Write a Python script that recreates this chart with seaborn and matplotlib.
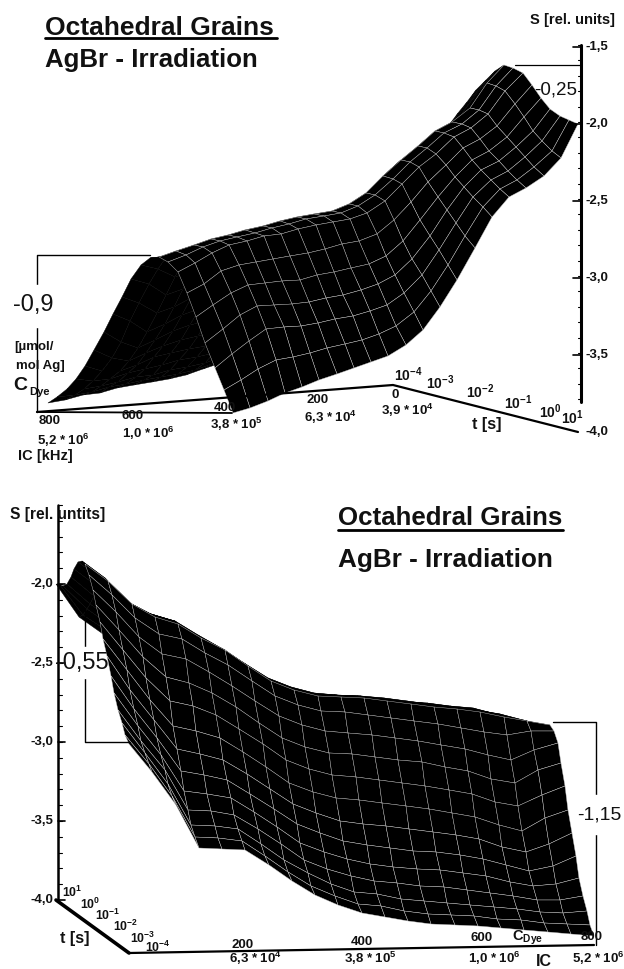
#!/usr/bin/env python3
"""
Octahedral grains, AgBr irradiation: sensitivity surface seen from two sides
"""

import matplotlib
matplotlib.use('Agg')
import matplotlib.pyplot as plt
import seaborn as sns
import numpy as np

sns.set_style("white")
plt.rcParams['font.family'] = ['Liberation Sans', 'DejaVu Sans']
plt.rcParams['mathtext.fontset'] = 'custom'
plt.rcParams['mathtext.rm'] = 'Liberation Sans:bold'
plt.rcParams['mathtext.bf'] = 'Liberation Sans:bold'
plt.rcParams['mathtext.default'] = 'rm'

# dye concentration as a share of 800, and t position along the axis
c_share = [0, .05, .1, .15, .2, .25, .3, .35, .4, .45, .5, .55, .6, .65, .7, .75, .8, .85, .9, .95, 1]
t_share = [0, .05, .1, .15, .2, .25, .3, .35, .4, .45, .5, .55, .6, .65, .7, .75, .8, .85, .9, .95, 1]

# S [rel. units], one row per dye concentration, columns from 10^-4 s to 10^1 s
s_table = np.array([
    [-2.68, -2.64, -2.58, -2.51, -2.42, -2.33, -2.22, -2.13, -2.04, -1.95, -1.87, -1.79, -1.74, -1.74, -1.76, -1.82, -1.89, -1.95, -1.98, -1.99, -2.00],
    [-2.86, -2.82, -2.77, -2.71, -2.63, -2.54, -2.44, -2.33, -2.22, -2.11, -2.01, -1.92, -1.85, -1.85, -1.87, -1.94, -2.01, -2.08, -2.13, -2.18, -2.21],
    [-3.07, -3.03, -2.97, -2.90, -2.82, -2.73, -2.63, -2.52, -2.40, -2.28, -2.17, -2.07, -2.00, -2.00, -2.01, -2.07, -2.13, -2.18, -2.23, -2.28, -2.32],
    [-3.34, -3.29, -3.23, -3.15, -3.05, -2.94, -2.82, -2.69, -2.55, -2.41, -2.28, -2.17, -2.08, -2.08, -2.09, -2.15, -2.21, -2.26, -2.31, -2.35, -2.39],
    [-3.35, -3.30, -3.24, -3.16, -3.07, -2.97, -2.85, -2.72, -2.58, -2.45, -2.32, -2.21, -2.13, -2.13, -2.14, -2.20, -2.26, -2.31, -2.36, -2.40, -2.44],
    [-3.36, -3.32, -3.26, -3.19, -3.10, -3.00, -2.89, -2.77, -2.64, -2.52, -2.40, -2.30, -2.22, -2.22, -2.24, -2.30, -2.36, -2.41, -2.46, -2.51, -2.56],
    [-3.46, -3.42, -3.36, -3.28, -3.19, -3.09, -2.98, -2.86, -2.73, -2.61, -2.49, -2.38, -2.30, -2.30, -2.32, -2.40, -2.48, -2.55, -2.62, -2.69, -2.75],
    [-3.56, -3.52, -3.46, -3.38, -3.29, -3.19, -3.08, -2.96, -2.83, -2.71, -2.59, -2.48, -2.40, -2.40, -2.42, -2.52, -2.62, -2.71, -2.79, -2.87, -2.95],
    [-3.65, -3.61, -3.55, -3.48, -3.39, -3.29, -3.18, -3.06, -2.93, -2.81, -2.69, -2.58, -2.50, -2.50, -2.52, -2.63, -2.75, -2.85, -2.94, -3.03, -3.12],
    [-3.72, -3.68, -3.62, -3.54, -3.45, -3.35, -3.24, -3.12, -2.99, -2.87, -2.75, -2.64, -2.56, -2.56, -2.59, -2.71, -2.84, -2.95, -3.05, -3.16, -3.26],
    [-3.77, -3.73, -3.67, -3.59, -3.50, -3.40, -3.29, -3.16, -3.03, -2.91, -2.79, -2.68, -2.60, -2.60, -2.62, -2.75, -2.88, -3.00, -3.12, -3.24, -3.35],
    [-3.80, -3.75, -3.69, -3.62, -3.53, -3.43, -3.31, -3.18, -3.05, -2.92, -2.80, -2.69, -2.61, -2.61, -2.63, -2.76, -2.90, -3.03, -3.15, -3.28, -3.41],
    [-3.83, -3.78, -3.72, -3.64, -3.55, -3.45, -3.33, -3.20, -3.07, -2.94, -2.82, -2.71, -2.62, -2.62, -2.64, -2.78, -2.92, -3.05, -3.17, -3.31, -3.44],
    [-3.85, -3.80, -3.74, -3.66, -3.57, -3.47, -3.35, -3.22, -3.09, -2.96, -2.84, -2.73, -2.64, -2.64, -2.66, -2.80, -2.93, -3.06, -3.18, -3.33, -3.47],
    [-3.86, -3.81, -3.75, -3.67, -3.58, -3.48, -3.37, -3.24, -3.11, -2.98, -2.86, -2.75, -2.66, -2.66, -2.68, -2.81, -2.95, -3.08, -3.20, -3.35, -3.50],
    [-3.87, -3.82, -3.77, -3.69, -3.60, -3.50, -3.39, -3.27, -3.14, -3.01, -2.89, -2.77, -2.68, -2.68, -2.69, -2.82, -2.95, -3.08, -3.21, -3.37, -3.53],
    [-3.88, -3.84, -3.78, -3.71, -3.62, -3.53, -3.42, -3.30, -3.17, -3.04, -2.92, -2.80, -2.70, -2.70, -2.71, -2.83, -2.95, -3.08, -3.21, -3.39, -3.57],
    [-3.90, -3.85, -3.80, -3.73, -3.66, -3.57, -3.47, -3.35, -3.22, -3.09, -2.96, -2.83, -2.72, -2.72, -2.73, -2.84, -2.96, -3.08, -3.21, -3.40, -3.60],
    [-3.91, -3.87, -3.82, -3.76, -3.69, -3.61, -3.51, -3.39, -3.25, -3.12, -2.99, -2.85, -2.75, -2.75, -2.77, -2.87, -3.00, -3.13, -3.28, -3.45, -3.64],
    [-3.93, -3.88, -3.83, -3.76, -3.68, -3.58, -3.46, -3.31, -3.18, -3.04, -2.93, -2.83, -2.78, -2.79, -2.83, -2.95, -3.07, -3.21, -3.36, -3.51, -3.68],
    [-3.94, -3.89, -3.82, -3.74, -3.64, -3.52, -3.39, -3.26, -3.13, -3.00, -2.89, -2.83, -2.81, -2.83, -2.88, -3.00, -3.14, -3.29, -3.44, -3.57, -3.70],
])

s_ticks = [-1.5, -2.0, -2.5, -3.0, -3.5, -4.0]
s_tick_labels = ['-1,5', '-2,0', '-2,5', '-3,0', '-3,5', '-4,0']
c_labels = ['800', '600', '400', '200', '0']
ic_top_labels = ['5,2 * $10^6$', '1,0 * $10^6$', '3,8 * $10^5$', '6,3 * $10^4$', '3,9 * $10^4$']
ic_bottom_labels = ['6,3 * $10^4$', '3,8 * $10^5$', '1,0 * $10^6$', '5,2 * $10^6$']
t_labels = ['$10^{-4}$', '$10^{-3}$', '$10^{-2}$', '$10^{-1}$', '$10^{0}$', '$10^{1}$']

fig = plt.figure(figsize=(6.24, 9.69), dpi=100)
ax = fig.add_axes([0, 0, 1, 1])
ax.set_xlim(0, 624)
ax.set_ylim(969, 0)
ax.axis('off')


def line(xs, ys, lw=1.0, color='black'):
    sns.lineplot(x=xs, y=ys, ax=ax, color=color, linewidth=lw, sort=False, estimator=None, legend=False)


def label(x, y, txt, size=10, weight='bold', ha='center'):
    ax.text(x, y, txt, fontsize=size, fontweight=weight, ha=ha, va='center', color='#111111')


def surface(origin, c_vec, t_vec, s_px, order, ridge=12):
    n = len(t_share)
    cc, tt = np.meshgrid(c_share, t_share)
    zz = s_table.T
    xx = origin[0] + c_vec[0] * cc + t_vec[0] * tt
    yy = origin[1] + c_vec[1] * cc + t_vec[1] * tt - s_px * (zz + 4)
    if order == 'up':
        # part behind the ridge goes first, flat black
        back, front = slice(0, ridge + 1), slice(ridge, None)
    else:
        xx, yy = xx[::-1], yy[::-1]
        back, front = slice(0, n - ridge), slice(n - ridge - 1, None)
    for part, edge in ((back, 'black'), (front, '#c8c8c8')):
        x_p, y_p = xx[part], yy[part]
        ax.pcolormesh(x_p, y_p, np.zeros((x_p.shape[0] - 1, x_p.shape[1] - 1)), cmap='gray',
                      vmin=0, vmax=1, shading='flat', edgecolors=edge, linewidth=0.3, antialiased=True)


# top panel
surface((393, 385), (-345, 27), (185, 47), 154, 'up')

label(45, 28, 'Octahedral Grains', 19, ha='left')
line([45, 277], [38, 38], 2)
label(45, 60, 'AgBr - Irradiation', 18.6, ha='left')
label(615, 20, 'S [rel. units]', 10.6, ha='right')

line([581, 581], [45, 402], 2.2)
for v, txt in zip(s_ticks, s_tick_labels):
    y = 432 - 154 * (v + 4)
    if v > -4:
        line([573, 581], [y, y], 1.2)
    label(586, y, txt, 9.5, ha='left')
for y in np.arange(45, 402, 15.4):
    line([578, 581], [y, y], 0.8)

line([37, 37, 150], [412, 255, 255], 1.0)
line([515, 581], [65, 65], 0.9)
ax.add_patch(plt.Rectangle((30, 285), 18, 42, color='white', zorder=3))
label(33, 305, '-0,9', 17, 'normal')
label(556, 90, '-0,25', 13.5, 'normal')
label(14, 347, '[µmol/', 9.5, ha='left')
label(16, 366, 'mol Ag]', 9.5, ha='left')
label(13, 385, 'C', 14, ha='left')
label(29, 392, 'Dye', 8, ha='left')

line([37, 232], [412, 413], 1.3)
line([37, 393, 578], [412, 385, 432], 1.6)
c_x = [50, 133, 225, 318, 395]
c_y = [421, 416, 408, 400, 395]
ic_x = [63, 148, 236, 330, 407]
ic_y = [440, 433, 424, 417, 410]
for x, y, txt in zip(c_x, c_y, c_labels):
    label(x, y, txt, 9.5)
for x, y, txt in zip(ic_x, ic_y, ic_top_labels):
    label(x, y, txt, 9.5)
label(18, 456, 'IC [kHz]', 10.5, ha='left')
t_x = [408, 440, 480, 518, 550, 572]
t_y = [375, 383, 392, 403, 412, 418]
for x, y, txt in zip(t_x, t_y, t_labels):
    label(x, y, txt, 10)
label(487, 425, 't [s]', 11.5)

# bottom panel
surface((129, 953), (465, -8), (-73, -53), 158, 'down')

label(338, 518, 'Octahedral Grains', 18.6, ha='left')
line([338, 563], [530, 530], 2)
label(338, 560, 'AgBr - Irradiation', 18.8, ha='left')
label(10, 514, 'S [rel. untits]', 11.2, ha='left')

line([58, 58], [505, 900], 1.8)
for v, txt in zip(s_ticks[1:], s_tick_labels[1:]):
    y = 900 - 158 * (v + 4)
    line([58, 65], [y, y], 1.2)
    label(53, y, txt, 9.5, ha='right')
for y in np.arange(505, 900, 15.8):
    line([58, 62], [y, y], 0.8)

line([85, 85, 130], [610, 742, 742], 1.0)
ax.add_patch(plt.Rectangle((75, 647), 25, 31, color='white', zorder=3))
label(82, 663, '-0,55', 17, 'normal')
line([553, 596, 596], [722, 722, 945], 1.0)
ax.add_patch(plt.Rectangle((575, 795), 49, 39, color='white', zorder=3))
label(599, 815, '-1,15', 14, 'normal')

line([56, 129], [900, 953], 2.6)
line([129, 594], [953, 945], 1.6)
c_x = [243, 362, 482, 592]
c_y = [945, 942, 938, 937]
for x, y, txt in zip(c_x, c_y, c_labels[3::-1]):
    label(x, y, txt, 9.5)
ic_x = [255, 370, 494, 598]
for x, txt in zip(ic_x, ic_bottom_labels):
    label(x, 958, txt, 9.5)
label(528, 938, 'C$_{Dye}$', 10.5)
label(544, 961, 'IC', 11.5)
t_x = [72, 90, 108, 126, 143, 158]
t_y = [892, 904, 915, 926, 938, 947]
for x, y, txt in zip(t_x, t_y, t_labels[::-1]):
    label(x, y, txt, 8.8)
label(75, 938, 't [s]', 11.5)

plt.savefig('out.png', dpi=100)
